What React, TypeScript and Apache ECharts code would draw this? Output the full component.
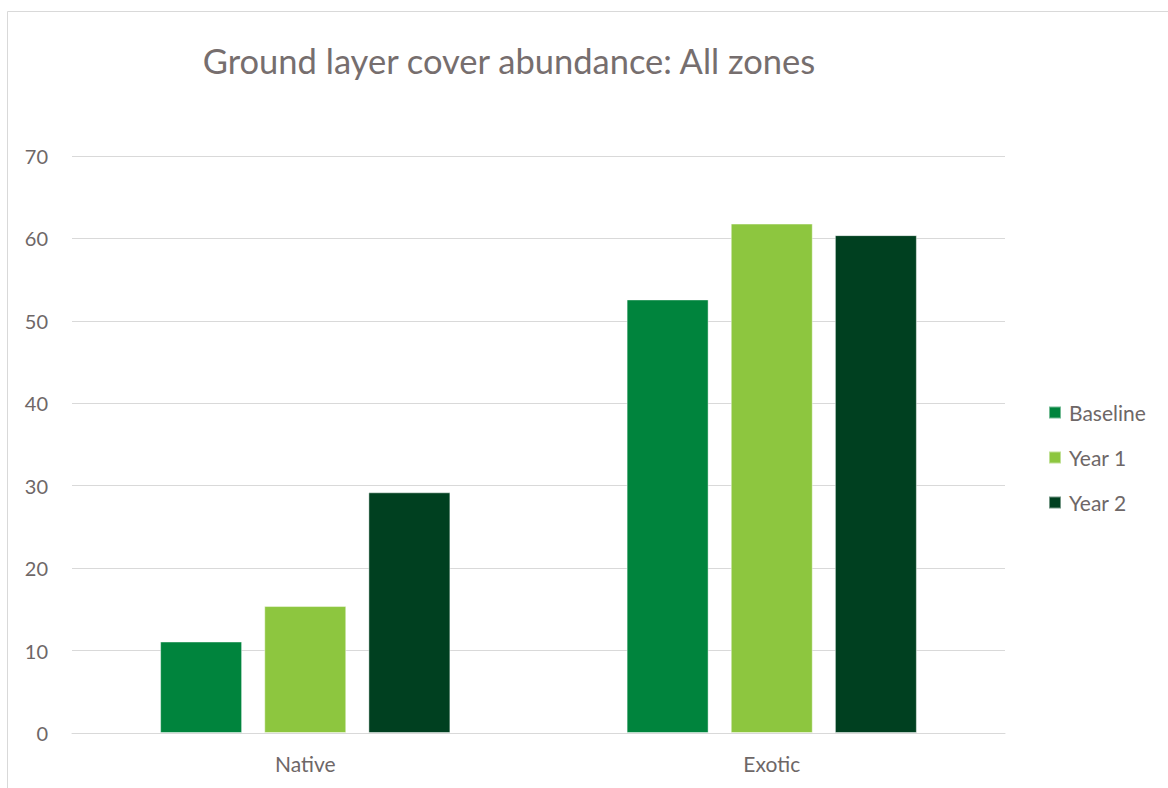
import React, { useEffect, useRef } from "react";
import * as echarts from "echarts";

const categories = ["Native", "Exotic"];
const seriesNames = ["Baseline", "Year 1", "Year 2"];
const baseline = [11.1, 52.6];
const year1 = [15.4, 61.8];
const year2 = [29.2, 60.4];
const yTicks = [0, 10, 20, 30, 40, 50, 60, 70];

const colors = ["#00843D", "#8DC63F", "#004020"];
const textColor = "#6E6767";
const FONT = "Lato";

export default function App() {
  const ref = useRef<HTMLDivElement>(null);
  useEffect(() => {
    if (!ref.current) return;
    const chart = echarts.init(ref.current, null, { renderer: "svg" });
    const values = [baseline, year1, year2];
    chart.setOption({
      animation: false,
      backgroundColor: "#ffffff",
      title: {
        text: "Ground layer cover abundance: All zones",
        left: 504,
        textAlign: "center",
        top: 38,
        textStyle: { fontFamily: FONT, fontSize: 34.5, fontWeight: "normal", color: "#766E6E" },
      },
      graphic: [
        {
          type: "rect",
          shape: { x: 7.5, y: 11.5, width: 1200, height: 900 },
          style: { fill: "none", stroke: "#D9D9D9", lineWidth: 1 },
          silent: true,
          z: -1,
        },
      ],
      legend: {
        orient: "vertical",
        left: 1043,
        top: 397,
        itemWidth: 12,
        itemHeight: 12,
        itemGap: 24,
        icon: "rect",
        data: seriesNames,
        textStyle: { fontFamily: FONT, fontSize: 21, color: textColor, lineHeight: 21, padding: [0, 0, 0, 3] },
      },
      grid: { left: 72, right: 163, top: 156, bottom: 55 },
      xAxis: {
        type: "category",
        data: categories,
        axisLine: { lineStyle: { color: "#D9D9D9", width: 1 } },
        axisTick: { show: false },
        axisLabel: { fontFamily: FONT, fontSize: 21, color: textColor, margin: 20 },
      },
      yAxis: {
        type: "value",
        min: yTicks[0],
        max: yTicks[yTicks.length - 1],
        interval: 10,
        axisLine: { show: false },
        axisTick: { show: false },
        splitLine: { lineStyle: { color: "#D9D9D9", width: 1 } },
        axisLabel: { fontFamily: FONT, fontSize: 20, color: textColor, margin: 24 },
      },
      series: seriesNames.map((name, i) => ({
        name,
        type: "bar",
        data: values[i],
        barWidth: 82,
        barGap: "27%",
        itemStyle: { color: colors[i], borderColor: "rgba(255,255,255,0.45)", borderWidth: 1 },
      })),
    });
    return () => chart.dispose();
  }, []);
  return (
    <div
      ref={ref}
      style={{ position: "fixed", left: 0, top: 0, width: 1168, height: 788 }}
    />
  );
}
